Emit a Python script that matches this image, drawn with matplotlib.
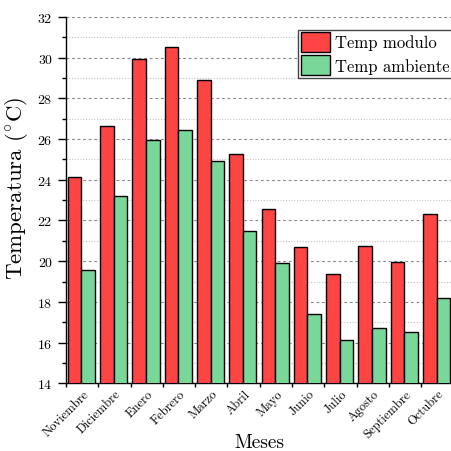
import numpy as np
import matplotlib
matplotlib.use('Agg')
import matplotlib.pyplot as plt
from matplotlib.ticker import MultipleLocator

plt.rcParams['font.family'] = 'serif'
plt.rcParams['font.serif'] = ['cmr10', 'DejaVu Serif']
plt.rcParams['mathtext.fontset'] = 'cm'
plt.rcParams['axes.unicode_minus'] = False
plt.rcParams['axes.formatter.use_mathtext'] = True

meses = ['Noviembre', 'Diciembre', 'Enero', 'Febrero', 'Marzo', 'Abril',
         'Mayo', 'Junio', 'Julio', 'Agosto', 'Septiembre', 'Octubre']
temp_modulo = [24.13, 26.65, 29.92, 30.51, 28.92, 25.25,
               22.56, 20.70, 19.36, 20.74, 19.97, 22.34]
temp_ambiente = [19.56, 23.18, 25.95, 26.44, 24.93, 21.49,
                 19.90, 17.39, 16.11, 16.70, 16.52, 18.21]

x = np.arange(len(meses))
w = 0.42

fig = plt.figure(figsize=(4.52, 4.52), dpi=100)
ax = fig.add_axes([0.146, 0.150, 0.857, 0.810])

ax.bar(x + 0.06, temp_modulo, width=w, align='edge', color='#ff4444',
       edgecolor='black', linewidth=1, label='Temp modulo', zorder=3)
ax.bar(x + 0.06 + w, temp_ambiente, width=w, align='edge', color='#79d79a',
       edgecolor='black', linewidth=1, label='Temp ambiente', zorder=3)

ax.set_xlim(0, 12)
ax.set_ylim(14, 32)
ax.yaxis.set_major_locator(MultipleLocator(2))
ax.yaxis.set_minor_locator(MultipleLocator(1))

# ticks at group edges, labels shifted
ax.set_xticks(np.arange(13))
ax.set_xticklabels([])
ax.set_xticks(x + 0.78, meses, minor=True)
ax.tick_params(axis='x', which='minor', length=0, pad=3)
for lab in ax.get_xticklabels(minor=True):
    lab.set_rotation(45)
    lab.set_ha('right')
    lab.set_fontsize(9)
ax.tick_params(axis='x', which='major', direction='out', length=3, width=1)
ax.tick_params(axis='y', which='major', direction='out', length=6, width=1, labelsize=10)
ax.tick_params(axis='y', which='minor', direction='out', length=3, width=1)

ax.grid(axis='y', which='major', linestyle=(0, (2.5, 2.5)), color='#888888', linewidth=0.8)
ax.grid(axis='y', which='minor', linestyle=(0, (1, 1.5)), color='#c0c0c0', linewidth=0.8)
ax.set_axisbelow(True)

ax.spines['top'].set_visible(False)
ax.spines['right'].set_visible(False)
ax.spines['left'].set_linewidth(1)
ax.spines['bottom'].set_linewidth(1)

ax.set_ylabel(r'Temperatura ($^{\circ}$C)', fontsize=16.5)
ax.yaxis.set_label_coords(-0.094, 0.535)
ax.set_xlabel('Meses', fontsize=14, va='center')
ax.xaxis.set_label_coords(0.5, -0.162)

leg = ax.legend(loc='upper right', bbox_to_anchor=(0.997, 0.966), borderaxespad=0,
                fontsize=12, fancybox=False, framealpha=1, edgecolor='#444444',
                handlelength=1.75, handleheight=1.45, labelspacing=0.22,
                borderpad=0.15, handletextpad=0.3)
leg.get_frame().set_linewidth(1)

plt.savefig('out.png', dpi=100)
